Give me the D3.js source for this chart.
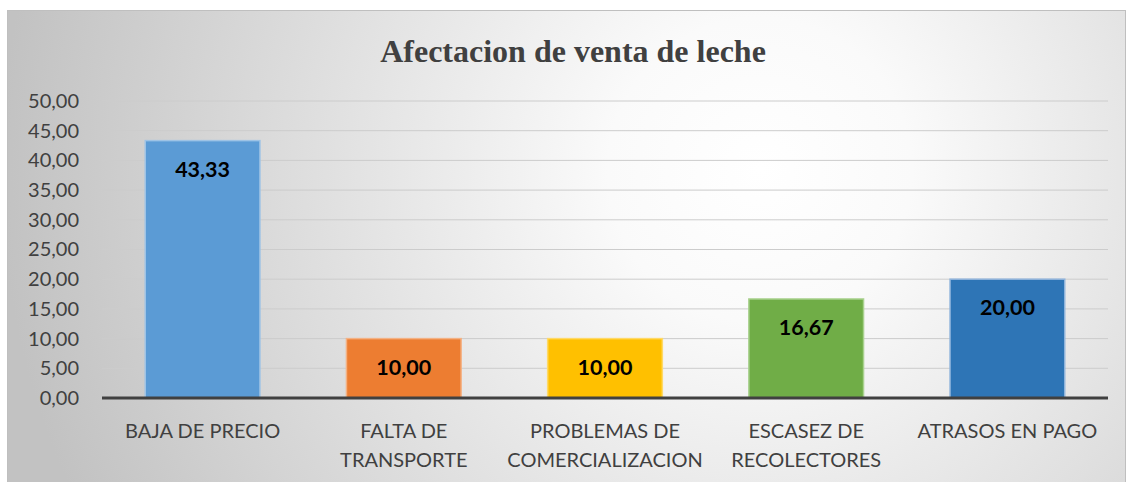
<!DOCTYPE html>
<html>
<head>
<meta charset="utf-8">
<script src="https://cdn.jsdelivr.net/npm/d3@7"></script>
<style>
  html, body { margin: 0; padding: 0; background: #ffffff; }
  svg { display: block; }
</style>
</head>
<body>
<div id="chart"></div>
<script>
  // Data
  const categories = [
    ['BAJA DE PRECIO'],
    ['FALTA DE', 'TRANSPORTE'],
    ['PROBLEMAS DE', 'COMERCIALIZACION'],
    ['ESCASEZ DE', 'RECOLECTORES'],
    ['ATRASOS EN PAGO']
  ];
  const values = [43.33, 10.00, 10.00, 16.67, 20.00];
  const yTicks = [0, 5, 10, 15, 20, 25, 30, 35, 40, 45, 50];
  const barColors = ['#5b9bd5', '#ed7d31', '#ffc000', '#70ad47', '#2e75b6'];
  const barStrokes = ['#9dc3e6', '#f4b183', '#ffd966', '#a9d18e', '#8fb4dc'];

  const width = 1132;
  const height = 482;
  const margin = { top: 101, right: 24, bottom: 84, left: 102 };
  const innerW = width - margin.left - margin.right;
  const innerH = height - margin.top - margin.bottom;

  const fmt = v => v.toFixed(2).replace('.', ',');

  const svg = d3.select('#chart')
    .append('svg')
    .attr('width', width)
    .attr('height', height);

  // Background radial gradient
  const defs = svg.append('defs');
  const grad = defs.append('radialGradient')
    .attr('id', 'bg')
    .attr('gradientUnits', 'userSpaceOnUse')
    .attr('cx', 760).attr('cy', 170).attr('r', 760);
  grad.append('stop').attr('offset', '0%').attr('stop-color', '#ffffff');
  grad.append('stop').attr('offset', '20%').attr('stop-color', '#fafafa');
  grad.append('stop').attr('offset', '100%').attr('stop-color', '#c2c2c2');

  svg.append('rect')
    .attr('x', 7.5).attr('y', 10.5)
    .attr('width', 1118).attr('height', 474)
    .attr('fill', 'url(#bg)')
    .attr('stroke', '#bfbfbf')
    .attr('stroke-width', 1);

  const g = svg.append('g')
    .attr('transform', `translate(${margin.left},${margin.top})`);

  const x = d3.scaleBand()
    .domain(d3.range(values.length))
    .range([0, innerW])
    .paddingInner(0.43)
    .paddingOuter(0.215);

  const y = d3.scaleLinear().domain([0, 50]).range([innerH, 0]);

  // Grid lines
  g.append('g')
    .selectAll('line')
    .data(yTicks.filter(d => d > 0))
    .enter()
    .append('line')
    .attr('x1', 0).attr('x2', innerW)
    .attr('y1', d => y(d)).attr('y2', d => y(d))
    .attr('stroke', '#cccccc')
    .attr('stroke-width', 1);

  // Y axis labels
  g.append('g')
    .call(d3.axisLeft(y).tickValues(yTicks).tickSize(0).tickPadding(23).tickFormat(fmt))
    .call(a => a.select('.domain').remove())
    .selectAll('text')
    .attr('fill', '#404040')
    .attr('font-size', '20px')
    .attr('font-family', 'Lato, sans-serif');

  // Bars
  g.selectAll('.bar')
    .data(values)
    .enter()
    .append('rect')
    .attr('x', (d, i) => x(i))
    .attr('y', d => y(d))
    .attr('width', x.bandwidth())
    .attr('height', d => innerH - y(d))
    .attr('fill', (d, i) => barColors[i])
    .attr('stroke', (d, i) => barStrokes[i])
    .attr('stroke-width', 1.5);

  // Value labels
  g.selectAll('.val')
    .data(values)
    .enter()
    .append('text')
    .attr('x', (d, i) => x(i) + x.bandwidth() / 2)
    .attr('y', d => y(d) + 36)
    .attr('text-anchor', 'middle')
    .attr('fill', '#000000')
    .attr('font-size', '21.5px')
    .attr('font-weight', 'bold')
    .attr('font-family', 'Lato, sans-serif')
    .text(d => fmt(d));

  // Baseline
  g.append('line')
    .attr('x1', 0).attr('x2', innerW)
    .attr('y1', innerH).attr('y2', innerH)
    .attr('stroke', '#404040')
    .attr('stroke-width', 3);

  // Category labels
  const cat = g.selectAll('.cat')
    .data(categories)
    .enter()
    .append('text')
    .attr('text-anchor', 'middle')
    .attr('fill', '#404040')
    .attr('font-size', '20px')
    .attr('font-family', 'Lato, sans-serif')
    .attr('transform', (d, i) => `translate(${x(i) + x.bandwidth() / 2},${innerH + 40})`);
  cat.selectAll('tspan')
    .data(d => d)
    .enter()
    .append('tspan')
    .attr('x', 0)
    .attr('dy', (d, j) => j === 0 ? 0 : 29)
    .text(d => d);

  // Title
  svg.append('text')
    .attr('x', 573)
    .attr('y', 62)
    .attr('text-anchor', 'middle')
    .attr('fill', '#404040')
    .attr('font-size', '32px')
    .attr('font-weight', 'bold')
    .attr('font-family', 'Liberation Serif, Times New Roman, serif')
    .text('Afectacion de venta de leche');
</script>
</body>
</html>
